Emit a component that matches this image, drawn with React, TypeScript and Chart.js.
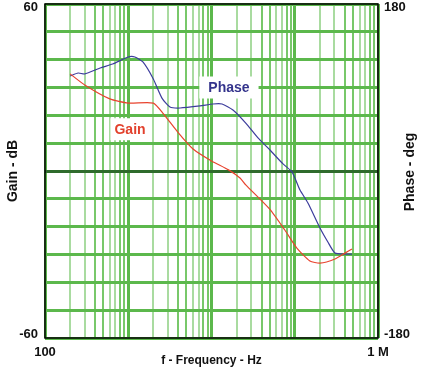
import { useEffect, useRef } from 'react';
import { Chart, registerables } from 'chart.js';

Chart.register(...registerables);

// Gain curve (left axis, dB)
const gainFreq = [200, 300, 600, 1000, 2000, 2600, 4000, 6000, 10000, 16000, 22000, 25800, 50000, 76000, 106000, 152000, 201000, 304000, 401000, 487000];
const gainDb = [34.9, 30.9, 25.9, 24.4, 24.4, 20.8, 13.7, 7.9, 3.6, 0.4, -2.5, -5.0, -13.7, -21.2, -27.7, -32.3, -33.1, -31.6, -29.5, -28.0];

// Phase curve (right axis, degrees)
const phaseFreq = [200, 250, 300, 460, 650, 1000, 1200, 1500, 2000, 2540, 3170, 4190, 7280, 10400, 13400, 18100, 25800, 36200, 50400, 72300, 92700, 115600, 144000, 201000, 250000, 304000, 401000, 487000];
const phaseDeg = [102.4, 105.6, 104.6, 111.0, 115.3, 122.9, 122.9, 117.5, 99.2, 78.6, 69.0, 67.9, 70.1, 72.2, 72.2, 65.8, 51.7, 35.6, 22.6, 7.6, -1.0, -20.5, -34.5, -61.4, -76.5, -88.4, -89.5, -89.5];

// Axis ticks and labels
const xTickValues = [100, 1000000];
const xTickLabels = ['100', '1 M'];
const gainTickValues = [-60, 60];
const gainTickLabels = ['-60', '60'];
const phaseTickValues = [-180, 180];
const phaseTickLabels = ['-180', '180'];
const xMin = 100;
const xMax = 1000000;
const gainMin = -60;
const gainMax = 60;
const gainStep = 10;
const phaseMin = -180;
const phaseMax = 180;

// Titles / annotations
const xTitle = 'f - Frequency - Hz';
const gainTitle = 'Gain - dB';
const phaseTitle = 'Phase - deg';
const seriesLabels = [
  { text: 'Phase', f: 16200, v: 90, axis: 'y1', color: '#34348c', padX: 9 },
  { text: 'Gain', f: 1050, v: 15, axis: 'y', color: '#e2402c', padX: 4 },
];

const FONT = '"Liberation Sans", Arial, Helvetica, sans-serif';

// grid values for log axis: 1..9 x each decade
const xGridValues: number[] = [];
for (let d = xMin; d < xMax; d *= 10) {
  for (let m = 1; m <= 9; m++) xGridValues.push(m * d);
}
xGridValues.push(xMax);
const gainGridValues: number[] = [];
for (let v = gainMin; v <= gainMax; v += gainStep) gainGridValues.push(v);

const overlay = {
  id: 'overlay',
  beforeDatasetsDraw(chart: any) {
    const { ctx, chartArea: a, scales } = chart;
    ctx.save();
    ctx.font = `bold 14px ${FONT}`;
    ctx.textAlign = 'center';
    ctx.textBaseline = 'middle';
    for (const l of seriesLabels) {
      const x = scales.x.getPixelForValue(l.f);
      const y = scales[l.axis].getPixelForValue(l.v);
      const w = ctx.measureText(l.text).width + 2 * l.padX;
      ctx.fillStyle = '#ffffff';
      ctx.fillRect(x - w / 2, y - 11, w, 22);
      ctx.fillStyle = l.color;
      ctx.fillText(l.text, x, y + 1);
    }
    ctx.strokeStyle = '#000000';
    ctx.lineWidth = 1.5;
    ctx.strokeRect(a.left, a.top, a.right - a.left, a.bottom - a.top);
    ctx.translate(a.right + 32, (a.top + a.bottom) / 2 + 1);
    ctx.rotate(-Math.PI / 2);
    ctx.fillStyle = '#111111';
    ctx.font = `bold 14px ${FONT}`;
    ctx.fillText(phaseTitle, 0, 0);
    ctx.restore();
  },
};

function mantissa(v: number) {
  return Math.round(v / Math.pow(10, Math.floor(Math.log10(v) + 1e-9)));
}

function xGridColor(v: number) {
  const m = mantissa(v);
  if (m === 1) return '#5cb84c';
  return m === 2 || m === 3 || m === 6 || m === 7 ? '#a9dba0' : '#78c86a';
}

// end labels nudged inward (top label a little lower, bottom label a little higher)
function endLabel(values: number[], labels: string[], v: number) {
  const i = values.indexOf(v);
  if (i < 0) return '';
  return v > 0 ? ['', labels[i]] : [labels[i], ''];
}

export default function App() {
  const ref = useRef<HTMLCanvasElement>(null);
  useEffect(() => {
    if (!ref.current) return;
    const chart = new Chart(ref.current, {
      type: 'line',
      data: {
        datasets: [
          {
            label: 'Gain',
            data: gainFreq.map((f, i) => ({ x: f, y: gainDb[i] })),
            yAxisID: 'y',
            borderColor: '#e8432e',
            borderWidth: 1.2,
            pointRadius: 0,
            tension: 0.2,
            fill: false,
          },
          {
            label: 'Phase',
            data: phaseFreq.map((f, i) => ({ x: f, y: phaseDeg[i] })),
            yAxisID: 'y1',
            borderColor: '#3c3c9c',
            borderWidth: 1.2,
            pointRadius: 0,
            tension: 0.2,
            fill: false,
          },
        ],
      },
      options: {
        responsive: false,
        animation: false,
        layout: { padding: { top: 4, left: 0, right: 0, bottom: 0 } },
        plugins: { legend: { display: false }, tooltip: { enabled: false } },
        scales: {
          x: {
            type: 'logarithmic',
            min: xMin,
            max: xMax,
            afterBuildTicks: (s: any) => {
              s.ticks = xGridValues.map((v) => ({ value: v }));
            },
            afterFit: (s: any) => {
              s.height = 34;
              s.paddingLeft = 0;
              s.paddingRight = 0;
            },
            border: { display: false },
            grid: {
              drawTicks: false,
              color: (c: any) => xGridColor(c.tick.value),
              lineWidth: (c: any) => (mantissa(c.tick.value) === 1 ? 3 : 2),
            },
            ticks: {
              autoSkip: false,
              maxRotation: 0,
              minRotation: 0,
              padding: 7,
              color: '#111111',
              font: { family: FONT, size: 13, weight: 'bold' },
              callback: (v: any) => {
                const i = xTickValues.findIndex((t) => Math.abs(t - Number(v)) < 1e-6 * t);
                return i >= 0 ? xTickLabels[i] : '';
              },
            },
            title: {
              display: true,
              text: xTitle,
              color: '#111111',
              font: { family: FONT, size: 12, weight: 'bold' },
              padding: { top: 0, bottom: 4 },
            },
          },
          y: {
            position: 'left',
            min: gainMin,
            max: gainMax,
            afterBuildTicks: (s: any) => {
              s.ticks = gainGridValues.map((v) => ({ value: v }));
            },
            afterFit: (s: any) => {
              s.width = 45;
              s.paddingTop = 0;
              s.paddingBottom = 0;
            },
            border: { display: false },
            grid: {
              drawTicks: false,
              color: (c: any) => (c.tick.value === 0 ? '#2f6b2c' : '#5cb84c'),
              lineWidth: 3,
            },
            ticks: {
              autoSkip: false,
              padding: 7,
              color: '#111111',
              font: { family: FONT, size: 13, weight: 'bold', lineHeight: 0.55 },
              callback: (v: any) => endLabel(gainTickValues, gainTickLabels, Number(v)),
            },
            title: {
              display: true,
              text: gainTitle,
              color: '#111111',
              font: { family: FONT, size: 14, weight: 'bold' },
              padding: { top: 5, bottom: 0 },
            },
          },
          y1: {
            position: 'right',
            min: phaseMin,
            max: phaseMax,
            afterBuildTicks: (s: any) => {
              s.ticks = phaseTickValues.map((v) => ({ value: v }));
            },
            afterFit: (s: any) => {
              s.width = 48;
              s.paddingTop = 0;
              s.paddingBottom = 0;
            },
            border: { display: false },
            grid: { display: false, drawTicks: false },
            ticks: {
              autoSkip: false,
              padding: 6,
              color: '#111111',
              font: { family: FONT, size: 13, weight: 'bold', lineHeight: 0.55 },
              callback: (v: any) => endLabel(phaseTickValues, phaseTickLabels, Number(v)),
            },
          },
        },
      },
      plugins: [overlay],
    } as any);
    return () => chart.destroy();
  }, []);
  return (
    <div style={{ position: 'absolute', left: 0, top: 0, width: 426, height: 372, background: '#ffffff' }}>
      <canvas ref={ref} width={426} height={372} />
    </div>
  );
}
